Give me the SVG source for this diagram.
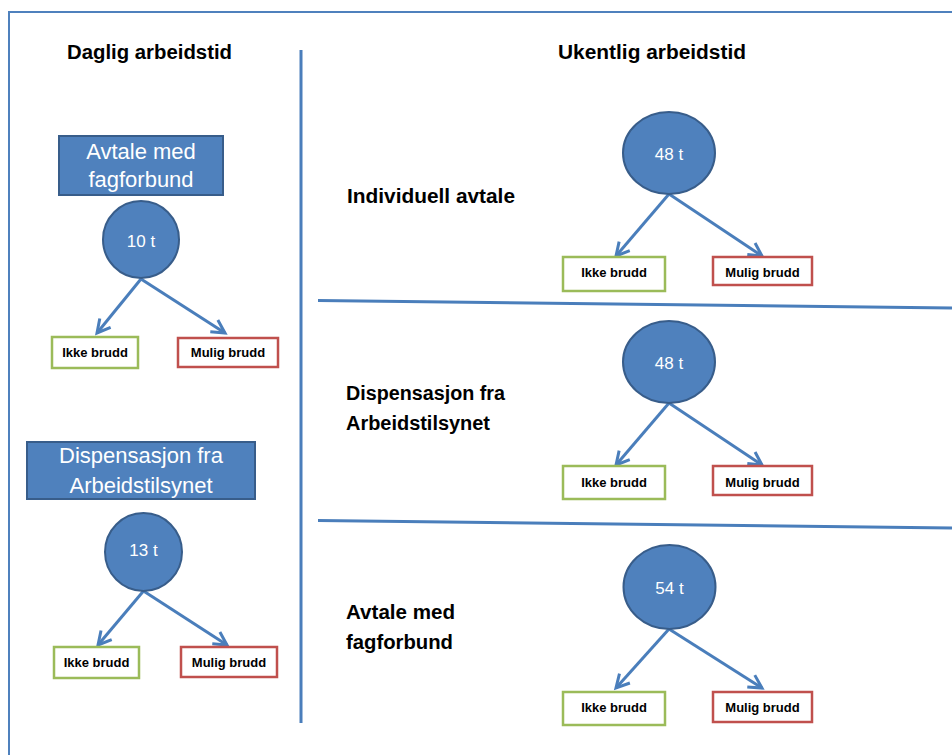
<svg xmlns="http://www.w3.org/2000/svg" width="952" height="755" viewBox="0 0 952 755">
<style>
.frame{fill:none;stroke:#4f81bd;stroke-width:2}
.div{fill:none;stroke:#4a7ebb;stroke-width:3}
.hdr{font-family:"Liberation Sans",Arial,sans-serif;font-weight:bold;font-size:20px;fill:#000}
.lbl{font-family:"Liberation Sans",Arial,sans-serif;font-weight:bold;font-size:20px;fill:#000}
.box{fill:#4f81bd;stroke:#385d8a;stroke-width:2}
.boxt{font-family:"Liberation Sans",Arial,sans-serif;font-size:22px;fill:#fff;text-anchor:middle}
.circ{fill:#4f81bd;stroke:#385d8a;stroke-width:2}
.ct{font-family:"Liberation Sans",Arial,sans-serif;font-size:17px;fill:#fff;text-anchor:middle}
.ok{fill:#fff;stroke:#9bbb59;stroke-width:2.5}
.bad{fill:#fff;stroke:#c0504d;stroke-width:2.5}
.st{font-family:"Liberation Sans",Arial,sans-serif;font-weight:bold;font-size:13px;fill:#000;text-anchor:middle}
.arr{fill:none;stroke:#4a7ebb;stroke-width:3;marker-end:url(#ah)}
</style>
<defs>
<marker id="ah" markerUnits="userSpaceOnUse" markerWidth="20" markerHeight="20" refX="0" refY="0" viewBox="-16 -10 20 20" orient="auto">
<path d="M-13,-7 L0,0 L-13,7" fill="none" stroke="#4a7ebb" stroke-width="3" stroke-linejoin="miter"/>
</marker>
</defs>
<rect width="952" height="755" fill="#fff"/>
<g id="frame">
<path class="frame" d="M9,760 L9,12 L960,12"/>
<line class="div" x1="301" y1="50" x2="301" y2="723"/>
<line class="div" x1="318" y1="300.5" x2="952" y2="308"/>
<line class="div" x1="318" y1="520.5" x2="952" y2="528"/>
</g>
<g id="headers">
<text class="hdr" x="67" y="59" textLength="165" lengthAdjust="spacingAndGlyphs">Daglig arbeidstid</text>
<text class="hdr" x="558" y="59" textLength="188" lengthAdjust="spacingAndGlyphs">Ukentlig arbeidstid</text>
</g>
<g id="labels">
<text class="lbl" x="347" y="203" textLength="168" lengthAdjust="spacingAndGlyphs">Individuell avtale</text>
<text class="lbl" x="346" y="400" textLength="159" lengthAdjust="spacingAndGlyphs">Dispensasjon fra</text>
<text class="lbl" x="346" y="430" textLength="144" lengthAdjust="spacingAndGlyphs">Arbeidstilsynet</text>
<text class="lbl" x="346" y="619" textLength="109" lengthAdjust="spacingAndGlyphs">Avtale med</text>
<text class="lbl" x="346" y="649" textLength="107" lengthAdjust="spacingAndGlyphs">fagforbund</text>
</g>
<g id="connectors">
<line class="arr" x1="141" y1="279" x2="97" y2="333"/>
<line class="arr" x1="141" y1="279" x2="225" y2="333"/>
<line class="arr" x1="143.5" y1="591" x2="98" y2="645"/>
<line class="arr" x1="143.5" y1="591" x2="227" y2="645"/>
<line class="arr" x1="669" y1="194" x2="616" y2="256"/>
<line class="arr" x1="669" y1="194" x2="762" y2="256"/>
<line class="arr" x1="669" y1="403" x2="616" y2="465"/>
<line class="arr" x1="669" y1="403" x2="762" y2="465"/>
<line class="arr" x1="669" y1="629" x2="616" y2="688"/>
<line class="arr" x1="669" y1="629" x2="762" y2="688"/>
</g>
<g id="box-avtale-daglig">
<rect class="box" x="59" y="136" width="164" height="59"/>
<text class="boxt" x="141" y="159">Avtale med</text>
<text class="boxt" x="141" y="187">fagforbund</text>
</g>
<g id="box-dispensasjon-daglig">
<rect class="box" x="27" y="442" width="228" height="57"/>
<text class="boxt" x="141" y="463">Dispensasjon fra</text>
<text class="boxt" x="141" y="493">Arbeidstilsynet</text>
</g>
<g id="node-10t">
<ellipse class="circ" cx="141" cy="239.5" rx="38" ry="38.5"/>
<text class="ct" x="141" y="247">10 t</text>
</g>
<g id="node-13t">
<ellipse class="circ" cx="143.5" cy="552" rx="38.5" ry="39"/>
<text class="ct" x="143.5" y="556">13 t</text>
</g>
<g id="node-48t-a">
<ellipse class="circ" cx="669" cy="153" rx="46" ry="41"/>
<text class="ct" x="669" y="160">48 t</text>
</g>
<g id="node-48t-b">
<ellipse class="circ" cx="669" cy="362" rx="46" ry="41"/>
<text class="ct" x="669" y="369">48 t</text>
</g>
<g id="node-54t">
<ellipse class="circ" cx="669.5" cy="587" rx="46" ry="42"/>
<text class="ct" x="669.5" y="594">54 t</text>
</g>
<g id="ikke-1"><rect class="ok" x="52" y="337" width="86" height="31"/><text class="st" x="95" y="357">Ikke brudd</text></g>
<g id="mulig-1"><rect class="bad" x="178" y="338" width="100" height="29"/><text class="st" x="228" y="357">Mulig brudd</text></g>
<g id="ikke-2"><rect class="ok" x="54" y="647" width="85" height="31"/><text class="st" x="96.5" y="667">Ikke brudd</text></g>
<g id="mulig-2"><rect class="bad" x="181" y="647" width="96" height="30"/><text class="st" x="229" y="667">Mulig brudd</text></g>
<g id="ikke-3"><rect class="ok" x="563" y="257" width="102" height="34"/><text class="st" x="614" y="277">Ikke brudd</text></g>
<g id="mulig-3"><rect class="bad" x="713" y="257" width="99" height="28"/><text class="st" x="762.5" y="277">Mulig brudd</text></g>
<g id="ikke-4"><rect class="ok" x="563" y="466" width="102" height="33"/><text class="st" x="614" y="487">Ikke brudd</text></g>
<g id="mulig-4"><rect class="bad" x="713" y="466" width="99" height="29"/><text class="st" x="762.5" y="487">Mulig brudd</text></g>
<g id="ikke-5"><rect class="ok" x="563" y="692" width="102" height="33"/><text class="st" x="614" y="712">Ikke brudd</text></g>
<g id="mulig-5"><rect class="bad" x="713" y="692" width="99" height="30"/><text class="st" x="762.5" y="712">Mulig brudd</text></g>
</svg>
